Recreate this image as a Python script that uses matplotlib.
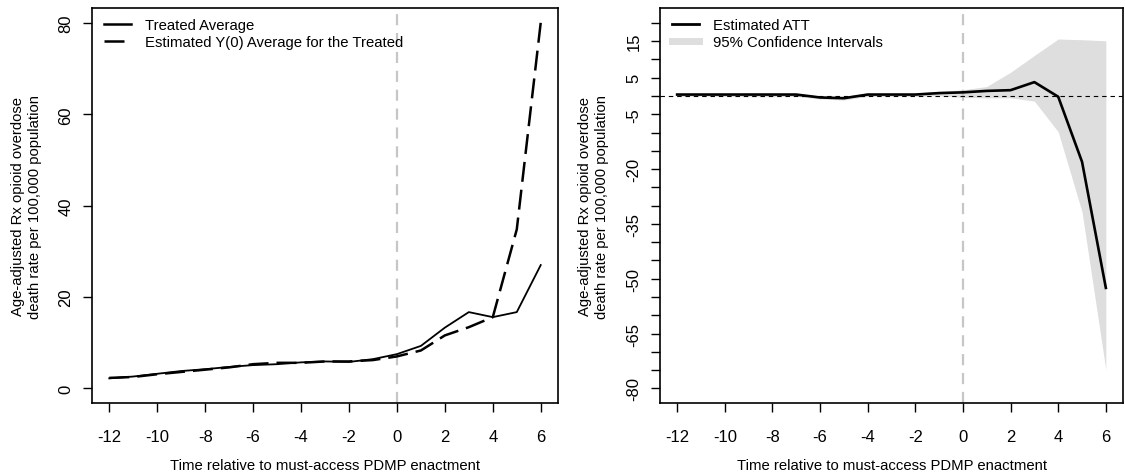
import matplotlib
matplotlib.use('Agg')
import matplotlib.pyplot as plt
from matplotlib.lines import Line2D

plt.rcParams['font.family'] = ['Liberation Sans', 'DejaVu Sans']

# event time relative to enactment
time = [-12, -11, -10, -9, -8, -7, -6, -5, -4, -3, -2, -1, 0, 1, 2, 3, 4, 5, 6]

# left panel: treated average vs counterfactual
treated = [2.2, 2.6, 3.2, 3.8, 4.2, 4.7, 5.1, 5.3, 5.7, 5.9, 5.8, 6.4, 7.5, 9.3, 13.3, 16.7, 15.6, 16.7, 27.0]
y0_avg = [2.3, 2.5, 3.1, 3.6, 4.1, 4.6, 5.3, 5.6, 5.6, 5.9, 5.9, 6.2, 7.0, 8.3, 11.6, 13.4, 15.6, 34.8, 80.1]

# right panel: estimated ATT with 95% CI
att = [0.4, 0.4, 0.4, 0.4, 0.4, 0.4, -0.4, -0.6, 0.4, 0.4, 0.4, 0.8, 1.0, 1.4, 1.6, 3.8, -0.2, -18.0, -52.5]
ci_lo = [-0.1, 0.0, -0.1, -0.2, -0.2, -0.1, -0.8, -1.1, -0.1, -0.1, -0.1, 0.1, -0.4, -0.5, -0.5, -1.4, -9.8, -31.7, -74.9]
ci_hi = [0.7, 0.7, 0.7, 0.8, 0.7, 0.7, 0.0, -0.1, 0.8, 0.7, 0.7, 1.3, 1.7, 2.6, 6.5, 11.1, 15.6, 15.4, 15.1]

left_yticks = [0, 20, 40, 60, 80]
right_yticks = list(range(-80, 21, 5))
right_ylabels = [15, 5, -5, -20, -35, -50, -65, -80]
xticks = list(range(-12, 7, 2))

ylab = 'Age-adjusted Rx opioid overdose\ndeath rate per 100,000 population'
xlab = 'Time relative to must-access PDMP enactment'

fig = plt.figure(figsize=(11.25, 4.77), dpi=100)
ax1 = fig.add_axes([92 / 1125, 0.153, 466 / 1125, 0.8275])
ax2 = fig.add_axes([660 / 1125, 0.153, 463 / 1125, 0.8275])


def style_axis(ax):
    for s in ax.spines.values():
        s.set_linewidth(1.2)
    ax.tick_params(direction='out', length=6.5, width=1.0, labelsize=12)
    ax.tick_params(axis='x', pad=12)
    ax.tick_params(axis='y', pad=7)
    ax.set_xlim(-12.72, 6.72)
    ax.set_xticks(xticks)
    ax.set_xticklabels([str(t) for t in xticks])
    for lab in ax.get_yticklabels():
        lab.set_rotation(90)
        lab.set_va('center')


def add_legend(ax, handles, labels):
    ax.legend(handles, labels, loc='upper left', bbox_to_anchor=(0.025, 0.976),
              frameon=False, fontsize=10.7, borderpad=0, borderaxespad=0,
              handlelength=1.87, handletextpad=0.9, labelspacing=0.2)


# ---- left panel
ax1.axvline(0, color='#c6c6c6', lw=1.6, dashes=(5, 3.5), zorder=1)
ax1.plot(time, treated, color='black', lw=1.3, zorder=3)
ax1.plot(time, y0_avg, color='black', lw=1.8, dashes=(8, 3.2), zorder=3)
ax1.set_ylim(-3.2, 83.2)
ax1.set_yticks(left_yticks)
ax1.set_yticklabels([str(v) for v in left_yticks])
style_axis(ax1)
add_legend(ax1,
           [Line2D([], [], color='black', lw=1.8),
            Line2D([], [], color='black', lw=1.8, dashes=(8, 3.2))],
           ['Treated Average', 'Estimated Y(0) Average for the Treated'])

# ---- right panel
ax2.fill_between(time, ci_lo, ci_hi, color='#dedede', lw=0, zorder=1)
ax2.axvline(0, color='#c6c6c6', lw=1.6, dashes=(5, 3.5), zorder=2)
ax2.axhline(0, color='black', lw=0.8, dashes=(4, 3.5), zorder=2)
ax2.plot(time, att, color='black', lw=1.9, zorder=3)
ax2.set_ylim(-84, 24)
ax2.set_yticks(right_yticks)
ax2.set_yticklabels([str(v) if v in right_ylabels else '' for v in right_yticks])
style_axis(ax2)
add_legend(ax2,
           [Line2D([], [], color='black', lw=2.0),
            Line2D([], [], color='#dedede', lw=5)],
           ['Estimated ATT', '95% Confidence Intervals'])

# axis titles placed like base R graphics
fig.text(26.5 / 1125, 0.5667, ylab, rotation=90, ha='center', va='center',
         fontsize=10.7, linespacing=1.25)
fig.text(593.5 / 1125, 0.5667, ylab, rotation=90, ha='center', va='center',
         fontsize=10.7, linespacing=1.25)
fig.text(325 / 1125, 1 - 466 / 477, xlab, ha='center', va='center', fontsize=10.7)
fig.text(892 / 1125, 1 - 466 / 477, xlab, ha='center', va='center', fontsize=10.7)

fig.savefig('out.png', dpi=100, facecolor='white')
